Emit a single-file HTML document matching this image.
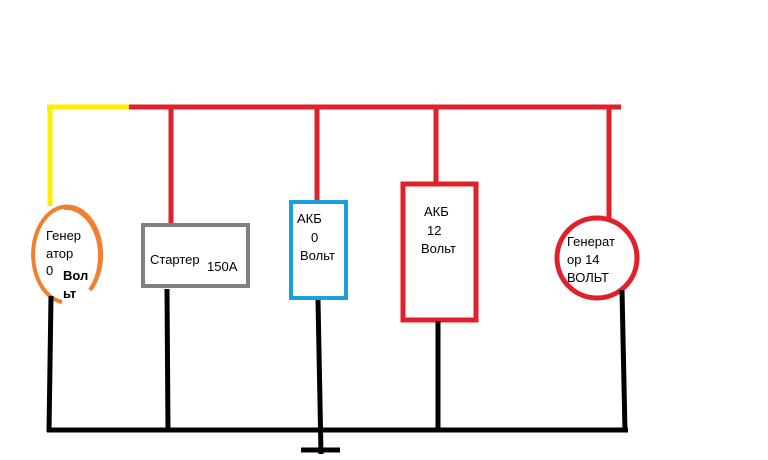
<!DOCTYPE html>
<html><head><meta charset="utf-8"><style>
html,body{margin:0;padding:0;background:#fff;}
svg{display:block;}
text{font-family:"Liberation Sans","DejaVu Sans",sans-serif;font-size:13px;fill:#000;}
</style></head><body>
<svg width="768" height="460" viewBox="0 0 768 460" xmlns="http://www.w3.org/2000/svg">
<!-- top wires -->
<line x1="47" y1="107" x2="129" y2="107" stroke="#ffee00" stroke-width="5"/>
<line x1="50" y1="105" x2="50" y2="206" stroke="#ffee00" stroke-width="5"/>
<line x1="129" y1="107" x2="621" y2="107" stroke="#e0202a" stroke-width="5"/>
<line x1="171" y1="107" x2="171" y2="225" stroke="#e0202a" stroke-width="5"/>
<line x1="317" y1="107" x2="317" y2="202" stroke="#e0202a" stroke-width="5"/>
<line x1="436" y1="107" x2="436" y2="184" stroke="#e0202a" stroke-width="5"/>
<line x1="609" y1="107" x2="609" y2="218" stroke="#e0202a" stroke-width="5"/>
<!-- orange generator -->
<path d="M90,290 A34,48 0 1 0 62,302" fill="none" stroke="#f08030" stroke-width="4" transform="rotate(0)"/>
<path d="M90,290 A34,48 0 0 0 64,208" fill="none" stroke="#f08030" stroke-width="4"/>
<text x="46" y="240">Генер</text>
<text x="46" y="258">атор</text>
<text x="46" y="275">0</text>
<text x="63" y="280" font-weight="bold">Вол</text>
<text x="63" y="298" font-weight="bold">ьт</text>
<!-- starter -->
<rect x="143" y="225" width="105" height="61" fill="none" stroke="#808080" stroke-width="4"/>
<text x="150" y="264">Стартер</text>
<text x="207" y="271">150A</text>
<!-- AKB 0 -->
<rect x="291" y="202" width="55" height="96" fill="none" stroke="#1aa0e0" stroke-width="4"/>
<text x="297" y="223">АКБ</text>
<text x="311" y="242">0</text>
<text x="300" y="260">Вольт</text>
<!-- AKB 12 -->
<rect x="403" y="184" width="73" height="136" fill="none" stroke="#e0202a" stroke-width="5"/>
<text x="424" y="216">АКБ</text>
<text x="427" y="235">12</text>
<text x="421" y="253">Вольт</text>
<!-- red generator -->
<circle cx="597" cy="258" r="40" fill="none" stroke="#e0202a" stroke-width="5"/>
<text x="567" y="246">Генерат</text>
<text x="567" y="264">ор 14</text>
<text x="567" y="282">ВОЛЬТ</text>
<!-- black wires -->
<g stroke="#000" stroke-width="5" stroke-linecap="butt">
<line x1="51" y1="296" x2="49" y2="432"/>
<line x1="167" y1="289" x2="168" y2="432"/>
<line x1="318" y1="300" x2="321" y2="454"/>
<line x1="438" y1="321" x2="438" y2="432"/>
<line x1="622" y1="290" x2="625" y2="432"/>
<line x1="47" y1="430" x2="628" y2="430"/>
<line x1="301" y1="450" x2="340" y2="450"/>
</g>
</svg>
</body></html>
